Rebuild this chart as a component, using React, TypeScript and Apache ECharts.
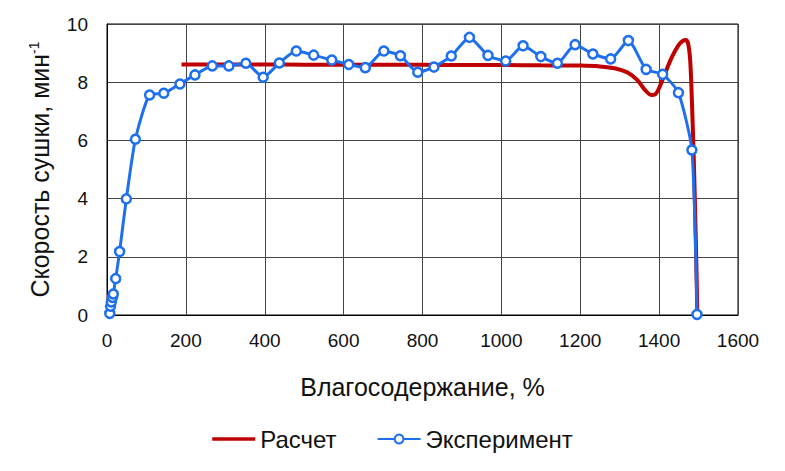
import React, { useEffect, useRef } from "react";
import * as echarts from "echarts";

const calcX = [189, 300, 400, 500, 600, 700, 800, 900, 1000, 1100, 1200, 1250, 1290, 1320, 1345, 1365, 1380, 1390, 1400, 1415, 1432, 1448, 1460, 1468, 1474, 1479, 1483, 1488, 1493, 1497];
const calcY = [8.61, 8.61, 8.61, 8.6, 8.6, 8.6, 8.6, 8.59, 8.59, 8.58, 8.57, 8.54, 8.47, 8.33, 8.07, 7.72, 7.56, 7.58, 7.8, 8.3, 8.85, 9.25, 9.42, 9.45, 9.3, 8.7, 7.4, 5.3, 2.6, 0];

const expX = [7, 9, 11, 14, 16, 22, 32, 49, 72, 108, 144, 185, 223, 267, 309, 352, 396, 437, 480, 524, 570, 613, 655, 702, 744, 788, 829, 873, 919, 966, 1011, 1055, 1100, 1142, 1187, 1232, 1277, 1322, 1367, 1409, 1449, 1483, 1496];
const expY = [0.05, 0.3, 0.45, 0.6, 0.72, 1.25, 2.18, 3.99, 6.04, 7.56, 7.62, 7.94, 8.25, 8.56, 8.56, 8.65, 8.17, 8.66, 9.07, 8.93, 8.76, 8.61, 8.5, 9.07, 8.91, 8.34, 8.52, 8.9, 9.54, 8.92, 8.73, 9.25, 8.88, 8.65, 9.29, 8.97, 8.8, 9.43, 8.44, 8.27, 7.64, 5.67, 0.02];

const seriesNames = ["Расчет", "Эксперимент"];
const xTitle = "Влагосодержание, %";
const yTitle = "Скорость сушки, мин{sup|-1}";

const FONT = "Liberation Sans, Arial, sans-serif";
const RED = "#c00000";
const BLUE = "#1e6ff0";

export default function App() {
  const ref = useRef<HTMLDivElement>(null);
  useEffect(() => {
    if (!ref.current) return;
    const chart = echarts.init(ref.current, undefined, { renderer: "svg" });
    chart.setOption({
      animation: false,
      backgroundColor: "#fff",
      textStyle: { fontFamily: FONT },
      grid: {
        left: 107,
        right: 47,
        top: 24,
        bottom: 156,
        show: true,
        borderColor: "#000",
        borderWidth: 1,
      },
      legend: {
        top: 422,
        left: "center",
        itemWidth: 43,
        itemHeight: 11,
        itemGap: 40,
        symbolKeepAspect: true,
        textStyle: { fontFamily: FONT, fontSize: 24, color: "#111" },
        data: [
          { name: seriesNames[0], icon: "path://M0,0 L43,0 L43,3.5 L0,3.5 Z", itemStyle: { color: RED } },
          { name: seriesNames[1] },
        ],
      },
      xAxis: {
        type: "value",
        min: 0,
        max: 1600,
        interval: 200,
        name: xTitle,
        nameLocation: "middle",
        nameGap: 59,
        nameTextStyle: { fontFamily: FONT, fontSize: 25, color: "#111" },
        axisLine: { show: true, lineStyle: { color: "#000", width: 1 } },
        axisTick: { show: false },
        axisLabel: {
          fontFamily: FONT,
          fontSize: 19,
          color: "#111",
          margin: 16,
          formatter: (v: number) => String(v),
        },
        splitLine: { show: true, lineStyle: { color: "#444", width: 1 } },
      },
      yAxis: {
        type: "value",
        min: 0,
        max: 10,
        interval: 2,
        name: yTitle,
        nameLocation: "middle",
        nameGap: 54,
        nameTextStyle: {
          fontFamily: FONT,
          fontSize: 25,
          color: "#111",
          rich: {
            sup: { fontFamily: FONT, fontSize: 14, color: "#111", verticalAlign: "top", padding: [0, 0, 12, 0] },
          },
        },
        axisLine: { show: true, lineStyle: { color: "#000", width: 1 } },
        axisTick: { show: false },
        axisLabel: { fontFamily: FONT, fontSize: 19, color: "#111", margin: 19 },
        splitLine: { show: true, lineStyle: { color: "#444", width: 1 } },
      },
      series: [
        {
          name: seriesNames[0],
          type: "line",
          data: calcX.map((x, i) => [x, calcY[i]]),
          smooth: 0.3,
          showSymbol: false,
          symbol: "none",
          lineStyle: { color: RED, width: 4 },
          itemStyle: { color: RED },
          z: 2,
        },
        {
          name: seriesNames[1],
          type: "line",
          data: expX.map((x, i) => [x, expY[i]]),
          smooth: 0.2,
          symbol: "circle",
          symbolSize: 9,
          lineStyle: { color: BLUE, width: 3 },
          itemStyle: { color: "#fff", borderColor: BLUE, borderWidth: 2.5 },
          z: 3,
        },
      ],
    });
    return () => chart.dispose();
  }, []);
  return <div ref={ref} style={{ width: 785, height: 471, position: "absolute", left: 0, top: 0 }} />;
}
